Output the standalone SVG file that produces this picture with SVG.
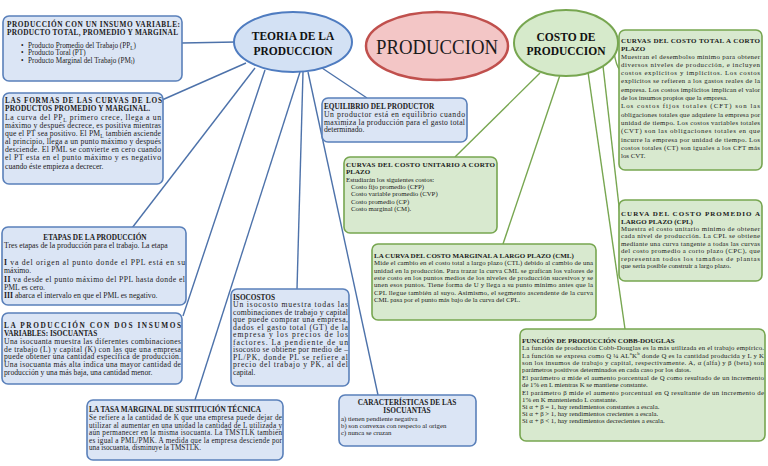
<svg xmlns="http://www.w3.org/2000/svg" width="768" height="466" viewBox="0 0 768 466">
<style>
.bg{fill:#ffffff}
.bb{fill:#dbe5f5;stroke:#5a80ba;stroke-width:1.6}
.gb{fill:#d8e9cf;stroke:#77a650;stroke-width:1.6}
.cb{stroke:#4d72aa;stroke-width:1.4;fill:none}
.cg{stroke:#77a650;stroke-width:1.4;fill:none}
text{font-family:"Liberation Serif","DejaVu Serif",serif;fill:#1b1b1b}
.t{font-size:7.7px}
.m{font-size:7.2px}
.s{font-size:6.8px}
.h{font-size:7.3px;font-weight:bold}
.hs{font-size:7px;font-weight:bold}
.c{text-anchor:middle}
.big{font-weight:bold;font-size:11.5px;fill:#111}
</style>
<rect class="bg" x="0" y="0" width="768" height="466"/>
<g id="connectors">
  <line class="cb" x1="182" y1="43" x2="236" y2="42"/>
  <line class="cb" x1="162" y1="100" x2="246" y2="63"/>
  <line class="cb" x1="132" y1="228" x2="255" y2="68"/>
  <line class="cb" x1="183" y1="316" x2="265" y2="70"/>
  <line class="cb" x1="195" y1="400" x2="300" y2="72"/>
  <line class="cb" x1="297" y1="289" x2="303" y2="72"/>
  <line class="cb" x1="378" y1="395" x2="308" y2="72"/>
  <line class="cb" x1="367" y1="98" x2="322" y2="68"/>
  <line class="cg" x1="455" y1="157" x2="540" y2="73"/>
  <line class="cg" x1="503" y1="244" x2="560" y2="75"/>
  <line class="cg" x1="625" y1="329" x2="588" y2="72"/>
  <line class="cg" x1="620" y1="215" x2="603" y2="66"/>
  <path class="cg" d="M614 52 Q616 66 620 70"/>
</g>
<g id="teoria">
  <ellipse cx="293" cy="42" rx="59" ry="30" fill="#d3e1f4" stroke="#4f7cc0" stroke-width="2"/>
  <text class="big c" x="293" y="40">TEORIA DE LA</text>
  <text class="big c" x="293" y="55">PRODUCCION</text>
</g>
<g id="produccion">
  <ellipse cx="437" cy="46" rx="71" ry="34" fill="#f3c6c6" stroke="#c0504d" stroke-width="2.5"/>
  <text class="c" x="437" y="54" font-size="20" textLength="122" lengthAdjust="spacingAndGlyphs">PRODUCCION</text>
</g>
<g id="costo">
  <ellipse cx="566" cy="43" rx="52" ry="33" fill="#d6eacb" stroke="#77a650" stroke-width="2"/>
  <text class="big c" x="566" y="41">COSTO DE</text>
  <text class="big c" x="566" y="55">PRODUCCION</text>
</g>
<g id="insumo-variable">
  <rect class="bb" x="3" y="16" width="179" height="65" rx="6"/>
  <text class="h" x="7" y="27" textLength="173" lengthAdjust="spacing">PRODUCCIÓN CON UN INSUMO VARIABLE:</text>
  <text class="h" x="7" y="35" textLength="171" lengthAdjust="spacing">PRODUCTO TOTAL, PROMEDIO Y MARGINAL</text>
  <text class="m" x="21" y="48">•</text><text class="m" x="28" y="48">Producto Promedio del Trabajo (PP<tspan font-size="5.2" dy="1.5">L</tspan><tspan dy="-1.5">)</tspan></text>
  <text class="m" x="21" y="55.3">•</text><text class="m" x="28" y="55.3">Producto Toral (PT)</text>
  <text class="m" x="21" y="62.6">•</text><text class="m" x="28" y="62.6">Producto Marginal del Trabajo (PM<tspan font-size="5.2" dy="1.5">l</tspan><tspan dy="-1.5">)</tspan></text>
</g>
<g id="formas-curvas">
  <rect class="bb" x="3" y="93" width="160" height="91" rx="6"/>
  <text class="h" x="5" y="102.5" textLength="157" lengthAdjust="spacing">LAS FORMAS DE LAS CURVAS DE LOS</text>
  <text class="h" x="5" y="110.5" textLength="145" lengthAdjust="spacing">PRODUCTOS PROMEDIO Y MARGINAL.</text>
  <text class="t" x="5" y="120" textLength="156" lengthAdjust="spacing">La curva del PP<tspan font-size="5.5" dy="1.5">L</tspan><tspan dy="-1.5"> primero crece, llega a un</tspan></text>
  <text class="t" x="5" y="128" textLength="156" lengthAdjust="spacing">máximo y después decrece, es positiva mientras</text>
  <text class="t" x="5" y="136.1" textLength="156" lengthAdjust="spacing">que el PT sea positivo. El PM<tspan font-size="5.5" dy="1.5">L</tspan><tspan dy="-1.5"> también asciende</tspan></text>
  <text class="t" x="5" y="144.2" textLength="156" lengthAdjust="spacing">al principio, llega a un punto máximo y después</text>
  <text class="t" x="5" y="152.3" textLength="156" lengthAdjust="spacing">desciende. El PML se convierte en cero cuando</text>
  <text class="t" x="5" y="160.4" textLength="156" lengthAdjust="spacing">el PT esta en el punto máximo y es negativo</text>
  <text class="t" x="5" y="168.5">cuando éste empieza a decrecer.</text>
</g>
<g id="etapas">
  <rect class="bb" x="2" y="227" width="184" height="78" rx="6"/>
  <text class="h c" x="95" y="239.5">ETAPAS DE LA PRODUCCIÓN</text>
  <text class="t" x="4" y="247.5">Tres etapas de la producción para el trabajo. La etapa</text>
  <text class="t" x="4" y="265" textLength="181" lengthAdjust="spacing"> <tspan font-weight="bold">I</tspan> va del origen al punto donde el PPL está en su</text>
  <text class="t" x="4" y="273">máximo.</text>
  <text class="t" x="4" y="282" textLength="181" lengthAdjust="spacing"> <tspan font-weight="bold">II</tspan> va desde el punto máximo del PPL hasta donde el</text>
  <text class="t" x="4" y="290">PML es cero.</text>
  <text class="t" x="4" y="298"><tspan font-weight="bold">III</tspan> abarca el intervalo en que el PML es negativo.</text>
</g>
<g id="dos-insumos">
  <rect class="bb" x="2" y="313" width="180" height="71" rx="6"/>
  <text class="h" x="4" y="328" textLength="177" lengthAdjust="spacing">LA PRODUCCIÓN CON DOS INSUMOS</text>
  <text class="h" x="4" y="336">VARIABLES: ISOCUANTAS</text>
  <text class="t" x="4" y="344" textLength="177" lengthAdjust="spacing">Una isocuanta muestra las diferentes combinaciones</text>
  <text class="t" x="4" y="351.7" textLength="177" lengthAdjust="spacing">de trabajo (L) y capital (K) con las que una empresa</text>
  <text class="t" x="4" y="359.4" textLength="177" lengthAdjust="spacing">puede obtener una cantidad específica de producción.</text>
  <text class="t" x="4" y="367.1" textLength="177" lengthAdjust="spacing">Una isocuanta más alta indica una mayor cantidad de</text>
  <text class="t" x="4" y="374.8">producción y una más baja, una cantidad menor.</text>
</g>
<g id="tmst">
  <rect class="bb" x="87" y="400" width="196" height="60" rx="6"/>
  <text class="h" x="89" y="412">LA TASA MARGINAL DE SUSTITUCIÓN TÉCNICA</text>
  <text class="m" x="89" y="420" textLength="193" lengthAdjust="spacing">Se refiere a la cantidad de K que una empresa puede dejar de</text>
  <text class="m" x="89" y="427.6" textLength="193" lengthAdjust="spacing">utilizar al aumentar en una unidad la cantidad de L utilizada y</text>
  <text class="m" x="89" y="435.2" textLength="193" lengthAdjust="spacing">aún permanecer en la misma isocuanta. La TMSTLK también</text>
  <text class="m" x="89" y="442.8" textLength="193" lengthAdjust="spacing">es igual a PML/PMK. A medida que la empresa desciende por</text>
  <text class="m" x="89" y="450.4">una isocuanta, disminuye la TMSTLK.</text>
</g>
<g id="isocostos">
  <rect class="bb" x="231" y="289" width="118" height="97" rx="6"/>
  <text class="h" x="233" y="299.5">ISOCOSTOS</text>
  <text class="t" x="233" y="307" textLength="115" lengthAdjust="spacing">Un isocosto muestra todas las</text>
  <text class="t" x="233" y="314.5" textLength="115" lengthAdjust="spacing">combinaciones de trabajo y capital</text>
  <text class="t" x="233" y="322" textLength="115" lengthAdjust="spacing">que puede comprar una empresa,</text>
  <text class="t" x="233" y="329.5" textLength="115" lengthAdjust="spacing">dados el gasto total (GT) de la</text>
  <text class="t" x="233" y="337" textLength="115" lengthAdjust="spacing">empresa y los precios de los</text>
  <text class="t" x="233" y="344.5" textLength="115" lengthAdjust="spacing">factores. La pendiente de un</text>
  <text class="t" x="233" y="352" textLength="115" lengthAdjust="spacing">isocosto se obtiene por medio de –</text>
  <text class="t" x="233" y="359.5" textLength="115" lengthAdjust="spacing">PL/PK, donde PL se refiere al</text>
  <text class="t" x="233" y="367" textLength="115" lengthAdjust="spacing">precio del trabajo y PK, al del</text>
  <text class="t" x="233" y="374.5">capital.</text>
</g>
<g id="equilibrio">
  <rect class="bb" x="322" y="98" width="145" height="44" rx="6"/>
  <text class="h" x="324" y="109">EQUILIBRIO DEL PRODUCTOR</text>
  <text class="t" x="324" y="117" textLength="141" lengthAdjust="spacing">Un productor está en equilibrio cuando</text>
  <text class="t" x="324" y="124.6" textLength="141" lengthAdjust="spacing">maximiza la producción para el gasto total</text>
  <text class="t" x="324" y="132.2">determinado.</text>
</g>
<g id="caracteristicas">
  <rect class="bb" x="339" y="395" width="137" height="51" rx="6"/>
  <text class="h c" x="407" y="404.5">CARACTERÍSTICAS DE LAS</text>
  <text class="h c" x="407" y="412.5">ISOCUANTAS</text>
  <text class="s" x="341" y="420.5">a) tienen pendiente negativa</text>
  <text class="s" x="341" y="427.5">b) son convexas con respecto al origen</text>
  <text class="s" x="341" y="434.5">c) nunca se cruzan</text>
</g>
<g id="costo-unitario">
  <rect class="gb" x="344" y="157" width="153" height="76" rx="6"/>
  <text class="hs" x="346" y="166.5" textLength="149" lengthAdjust="spacing">CURVAS DEL COSTO UNITARIO A CORTO</text>
  <text class="hs" x="346" y="174.3">PLAZO</text>
  <text class="s" x="346" y="182">Estudiarán los siguientes costos:</text>
  <text class="s" x="351" y="189.2">Costo fijo promedio (CFP)</text>
  <text class="s" x="351" y="196.4">Costo variable promedio (CVP)</text>
  <text class="s" x="351" y="203.6">Costo promedio (CP)</text>
  <text class="s" x="351" y="210.8">Costo marginal (CM).</text>
</g>
<g id="cml">
  <rect class="gb" x="372" y="244" width="224" height="76" rx="6"/>
  <text class="hs" x="374" y="257.5">LA CURVA DEL COSTO MARGINAL A LARGO PLAZO (CML)</text>
  <text class="s" x="374" y="265.2" textLength="219" lengthAdjust="spacing">Mide el cambio en el costo total a largo plazo (CTL) debido al cambio de una</text>
  <text class="s" x="374" y="272.6" textLength="219" lengthAdjust="spacing">unidad en la producción. Para trazar la curva CML se grafican los valores de</text>
  <text class="s" x="374" y="280" textLength="219" lengthAdjust="spacing">este costo en los puntos medios de los niveles de producción sucesivos y se</text>
  <text class="s" x="374" y="287.4" textLength="219" lengthAdjust="spacing">unen esos puntos. Tiene forma de U y llega a su punto mínimo antes que la</text>
  <text class="s" x="374" y="294.8" textLength="219" lengthAdjust="spacing">CPL llegue también al suyo. Asimismo, el segmento ascendente de la curva</text>
  <text class="s" x="374" y="302.2">CML pasa por el punto más bajo de la curva del CPL.</text>
</g>
<g id="cobb-douglas">
  <rect class="gb" x="520" y="329" width="245" height="112" rx="6"/>
  <text class="hs" x="522" y="342.5">FUNCIÓN DE PRODUCCIÓN COBB-DOUGLAS</text>
  <text class="s" x="522" y="350.3" textLength="242" lengthAdjust="spacing">La función de producción Cobb-Douglas es la más utilizada en el trabajo empírico.</text>
  <text class="s" x="522" y="357.8" textLength="242" lengthAdjust="spacing">La función se expresa como Q ¼ AL<tspan font-size="4.8" dy="-2.5">a</tspan><tspan dy="2.5">K</tspan><tspan font-size="4.8" dy="-2.5">b</tspan><tspan dy="2.5"> donde Q es la cantidad producida y L y K</tspan></text>
  <text class="s" x="522" y="365.1" textLength="242" lengthAdjust="spacing">son los insumos de trabajo y capital, respectivamente. A, α (alfa) y β (beta) son</text>
  <text class="s" x="522" y="372.4">parámetros positivos determinados en cada caso por los datos.</text>
  <text class="s" x="522" y="379.8" textLength="242" lengthAdjust="spacing">El parámetro α mide el aumento porcentual de Q como resultado de un incremento</text>
  <text class="s" x="522" y="387.1">de 1% en L mientras K se mantiene constante.</text>
  <text class="s" x="522" y="394.5" textLength="242" lengthAdjust="spacing">El parámetro β mide el aumento porcentual en Q resultante de un incremento de</text>
  <text class="s" x="522" y="401.7">1% en K manteniendo L constante.</text>
  <text class="s" x="522" y="408.9">Si α + β = 1, hay rendimientos constantes a escala.</text>
  <text class="s" x="522" y="416">Si α + β &gt; 1, hay rendimientos crecientes a escala.</text>
  <text class="s" x="522" y="423.1">Si α + β &lt; 1, hay rendimientos decrecientes a escala.</text>
</g>
<g id="costo-total">
  <rect class="gb" x="619" y="30" width="143" height="140" rx="6"/>
  <text class="hs" x="621" y="43" textLength="139" lengthAdjust="spacing">CURVAS DEL COSTO TOTAL A CORTO</text>
  <text class="hs" x="621" y="50.5">PLAZO</text>
  <text class="s" x="621" y="58.5" textLength="139" lengthAdjust="spacing">Muestran el desembolso mínimo para obtener</text>
  <text class="s" x="621" y="66.8" textLength="139" lengthAdjust="spacing">diversos niveles de producción, e incluyen</text>
  <text class="s" x="621" y="75.1" textLength="139" lengthAdjust="spacing">costos explícitos y implícitos. Los costos</text>
  <text class="s" x="621" y="83.4" textLength="139" lengthAdjust="spacing">explícitos se refieren a los gastos reales de la</text>
  <text class="s" x="621" y="91.7" textLength="139" lengthAdjust="spacing">empresa. Los costos implícitos implican el valor</text>
  <text class="s" x="621" y="100">de los insumos propios que la empresa.</text>
  <text class="s" x="621" y="108.3" textLength="139" lengthAdjust="spacing">Los costos fijos totales (CFT) son las</text>
  <text class="s" x="621" y="116.6" textLength="139" lengthAdjust="spacing">obligaciones totales que adquiere la empresa por</text>
  <text class="s" x="621" y="124.9" textLength="139" lengthAdjust="spacing">unidad de tiempo. Los costos variables totales</text>
  <text class="s" x="621" y="133.2" textLength="139" lengthAdjust="spacing">(CVT) son las obligaciones totales en que</text>
  <text class="s" x="621" y="141.5" textLength="139" lengthAdjust="spacing">incurre la empresa por unidad de tiempo. Los</text>
  <text class="s" x="621" y="149.8" textLength="139" lengthAdjust="spacing">costos totales (CT) son iguales a los CFT más</text>
  <text class="s" x="621" y="158.1">los CVT.</text>
</g>
<g id="cpl">
  <rect class="gb" x="619" y="200" width="143" height="81" rx="6"/>
  <text class="hs" x="621" y="216" textLength="139" lengthAdjust="spacing">CURVA DEL COSTO PROMEDIO A</text>
  <text class="hs" x="621" y="223.5">LARGO PLAZO (CPL)</text>
  <text class="s" x="621" y="231" textLength="139" lengthAdjust="spacing">Muestra el costo unitario mínimo de obtener</text>
  <text class="s" x="621" y="238.4" textLength="139" lengthAdjust="spacing">cada nivel de producción. La CPL se obtiene</text>
  <text class="s" x="621" y="245.8" textLength="139" lengthAdjust="spacing">mediante una curva tangente a todas las curvas</text>
  <text class="s" x="621" y="253.2" textLength="139" lengthAdjust="spacing">del costo promedio a corto plazo (CPC), que</text>
  <text class="s" x="621" y="260.6" textLength="139" lengthAdjust="spacing">representan todos los tamaños de plantas</text>
  <text class="s" x="621" y="268">que sería posible construir a largo plazo.</text>
</g>
</svg>
